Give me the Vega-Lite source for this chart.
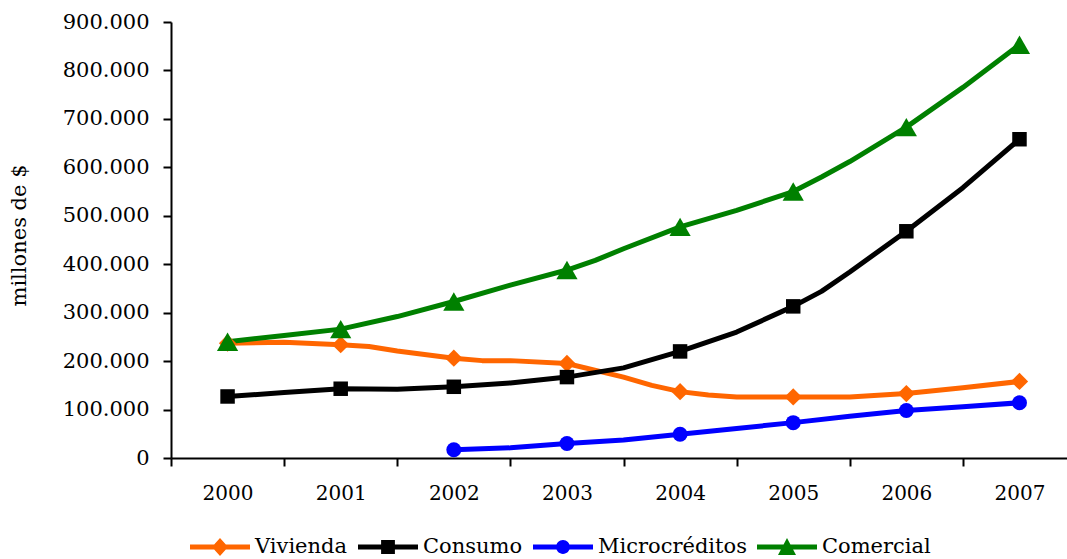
{
  "$schema": "https://vega.github.io/schema/vega-lite/v6.json",
  "width": 896,
  "height": 436,
  "autosize": {"type": "none"},
  "padding": {"left": 171, "top": 22, "right": 0, "bottom": 101},
  "background": "white",
  "config": {
    "font": "DejaVu Serif",
    "view": {"stroke": null},
    "locale": {"number": {"decimal": ",", "thousands": ".", "grouping": [3], "currency": ["$", ""]}},
    "axis": {
      "grid": false,
      "domainColor": "#000000",
      "domainWidth": 2,
      "tickColor": "#000000",
      "tickWidth": 2,
      "tickSize": 8,
      "labelColor": "#000000",
      "labelFont": "DejaVu Serif",
      "titleFont": "DejaVu Serif",
      "titleFontWeight": "normal",
      "titleColor": "#000000"
    },
    "legend": {
      "labelFont": "DejaVu Serif",
      "labelFontSize": 21,
      "labelColor": "#000000",
      "symbolSize": 3600,
      "labelOffset": 5,
      "columnPadding": 10,
      "symbolStrokeWidth": 0
    }
  },
  "data": {
    "values": [
      {"anio": 2000, "serie": "Vivienda", "valor": 237000},
      {"anio": 2000.5, "serie": "Vivienda", "valor": 239000},
      {"anio": 2001, "serie": "Vivienda", "valor": 234000},
      {"anio": 2001.25, "serie": "Vivienda", "valor": 230000},
      {"anio": 2001.5, "serie": "Vivienda", "valor": 221000},
      {"anio": 2002, "serie": "Vivienda", "valor": 206000},
      {"anio": 2002.25, "serie": "Vivienda", "valor": 201000},
      {"anio": 2002.5, "serie": "Vivienda", "valor": 201000},
      {"anio": 2003, "serie": "Vivienda", "valor": 195000},
      {"anio": 2003.5, "serie": "Vivienda", "valor": 167000},
      {"anio": 2003.75, "serie": "Vivienda", "valor": 150000},
      {"anio": 2004, "serie": "Vivienda", "valor": 137000},
      {"anio": 2004.25, "serie": "Vivienda", "valor": 130000},
      {"anio": 2004.5, "serie": "Vivienda", "valor": 126000},
      {"anio": 2005, "serie": "Vivienda", "valor": 126000},
      {"anio": 2005.5, "serie": "Vivienda", "valor": 126000},
      {"anio": 2006, "serie": "Vivienda", "valor": 133000},
      {"anio": 2006.5, "serie": "Vivienda", "valor": 145000},
      {"anio": 2007, "serie": "Vivienda", "valor": 158000},

      {"anio": 2000, "serie": "Consumo", "valor": 127000},
      {"anio": 2000.5, "serie": "Consumo", "valor": 135000},
      {"anio": 2001, "serie": "Consumo", "valor": 143000},
      {"anio": 2001.5, "serie": "Consumo", "valor": 142000},
      {"anio": 2002, "serie": "Consumo", "valor": 147000},
      {"anio": 2002.5, "serie": "Consumo", "valor": 155000},
      {"anio": 2003, "serie": "Consumo", "valor": 167000},
      {"anio": 2003.5, "serie": "Consumo", "valor": 186000},
      {"anio": 2004, "serie": "Consumo", "valor": 220000},
      {"anio": 2004.5, "serie": "Consumo", "valor": 260000},
      {"anio": 2005, "serie": "Consumo", "valor": 313000},
      {"anio": 2005.25, "serie": "Consumo", "valor": 344000},
      {"anio": 2005.5, "serie": "Consumo", "valor": 384000},
      {"anio": 2006, "serie": "Consumo", "valor": 468000},
      {"anio": 2006.5, "serie": "Consumo", "valor": 558000},
      {"anio": 2007, "serie": "Consumo", "valor": 658000},

      {"anio": 2002, "serie": "Microcréditos", "valor": 17000},
      {"anio": 2002.5, "serie": "Microcréditos", "valor": 21000},
      {"anio": 2003, "serie": "Microcréditos", "valor": 30000},
      {"anio": 2003.5, "serie": "Microcréditos", "valor": 37000},
      {"anio": 2004, "serie": "Microcréditos", "valor": 49000},
      {"anio": 2004.5, "serie": "Microcréditos", "valor": 61000},
      {"anio": 2005, "serie": "Microcréditos", "valor": 73000},
      {"anio": 2005.5, "serie": "Microcréditos", "valor": 86000},
      {"anio": 2006, "serie": "Microcréditos", "valor": 98000},
      {"anio": 2006.5, "serie": "Microcréditos", "valor": 106000},
      {"anio": 2007, "serie": "Microcréditos", "valor": 114000},

      {"anio": 2000, "serie": "Comercial", "valor": 240000},
      {"anio": 2000.5, "serie": "Comercial", "valor": 253000},
      {"anio": 2001, "serie": "Comercial", "valor": 266000},
      {"anio": 2001.5, "serie": "Comercial", "valor": 292000},
      {"anio": 2002, "serie": "Comercial", "valor": 323000},
      {"anio": 2002.5, "serie": "Comercial", "valor": 357000},
      {"anio": 2003, "serie": "Comercial", "valor": 388000},
      {"anio": 2003.25, "serie": "Comercial", "valor": 408000},
      {"anio": 2003.5, "serie": "Comercial", "valor": 432000},
      {"anio": 2004, "serie": "Comercial", "valor": 477000},
      {"anio": 2004.5, "serie": "Comercial", "valor": 511000},
      {"anio": 2005, "serie": "Comercial", "valor": 550000},
      {"anio": 2005.25, "serie": "Comercial", "valor": 580000},
      {"anio": 2005.5, "serie": "Comercial", "valor": 612000},
      {"anio": 2006, "serie": "Comercial", "valor": 683000},
      {"anio": 2006.5, "serie": "Comercial", "valor": 765000},
      {"anio": 2007, "serie": "Comercial", "valor": 853000}
    ]
  },
  "encoding": {
    "x": {
      "field": "anio",
      "type": "quantitative",
      "scale": {"domain": [1999.5, 2007.42], "nice": false, "zero": false},
      "axis": {
        "values": [2000, 2001, 2002, 2003, 2004, 2005, 2006, 2007],
        "tickOffset": -56.57,
        "labelOffset": 56.57,
        "format": "d",
        "title": null,
        "labelFontSize": 20,
        "labelPadding": 17,
        "labelFlush": false,
        "labelOverlap": false,
        "labelBound": false
      }
    },
    "y": {
      "field": "valor",
      "type": "quantitative",
      "scale": {"domain": [0, 900000], "nice": false},
      "axis": {
        "values": [0, 100000, 200000, 300000, 400000, 500000, 600000, 700000, 800000, 900000],
        "format": ",d",
        "title": "millones de $",
        "titleFontSize": 21,
        "labelFontSize": 21,
        "labelPadding": 14,
        "titleX": -152,
        "titleY": 213,
        "titleAngle": -90,
        "titleAlign": "center",
        "titleBaseline": "middle"
      }
    },
    "color": {
      "field": "serie",
      "type": "nominal",
      "scale": {"domain": ["Vivienda", "Consumo", "Microcréditos", "Comercial"], "range": ["#FF6600", "#000000", "#0000FF", "#008000"]},
      "legend": {
        "orient": "none",
        "legendX": 19,
        "legendY": 495,
        "direction": "horizontal",
        "title": null,
        "labelFont": "DejaVu Serif",
        "labelFontSize": 21,
        "symbolSize": 3600,
        "encode": {
          "symbols": {
            "update": {
              "shape": {"signal": "datum.value === 'Vivienda' ? 'M-1,-0.08H1V0.08H-1Z M0,-0.3L0.27,0L0,0.3L-0.27,0Z' : datum.value === 'Consumo' ? 'M-1,-0.08H1V0.08H-1Z M-0.23,-0.23H0.23V0.23H-0.23Z' : datum.value === 'Microcréditos' ? 'M-1,-0.08H1V0.08H-1Z M-0.23,0A0.23,0.23,0,1,1,0.23,0A0.23,0.23,0,1,1,-0.23,0Z' : 'M-1,-0.08H1V0.08H-1Z M0,-0.3L0.3,0.27H-0.3Z'"},
              "fill": {"signal": "datum.value === 'Vivienda' ? '#FF6600' : datum.value === 'Consumo' ? '#000000' : datum.value === 'Microcréditos' ? '#0000FF' : '#008000'"},
              "stroke": {"value": "transparent"},
              "opacity": {"value": 1}
            }
          }
        }
      }
    }
  },
  "layer": [
    {
      "mark": {"type": "line", "strokeWidth": 5, "strokeJoin": "round", "strokeCap": "round"}
    },
    {
      "transform": [{"filter": "datum.serie === 'Vivienda' && datum.anio % 1 === 0"}],
      "mark": {"type": "point", "shape": "diamond", "size": 300, "filled": true, "opacity": 1}
    },
    {
      "transform": [{"filter": "datum.serie === 'Consumo' && datum.anio % 1 === 0"}],
      "mark": {"type": "point", "shape": "square", "size": 210, "filled": true, "opacity": 1}
    },
    {
      "transform": [{"filter": "datum.serie === 'Microcréditos' && datum.anio % 1 === 0"}],
      "mark": {"type": "point", "shape": "circle", "size": 225, "filled": true, "opacity": 1}
    },
    {
      "transform": [{"filter": "datum.serie === 'Comercial' && datum.anio % 1 === 0"}],
      "mark": {"type": "point", "shape": "triangle-up", "size": 450, "filled": true, "opacity": 1}
    }
  ]
}
